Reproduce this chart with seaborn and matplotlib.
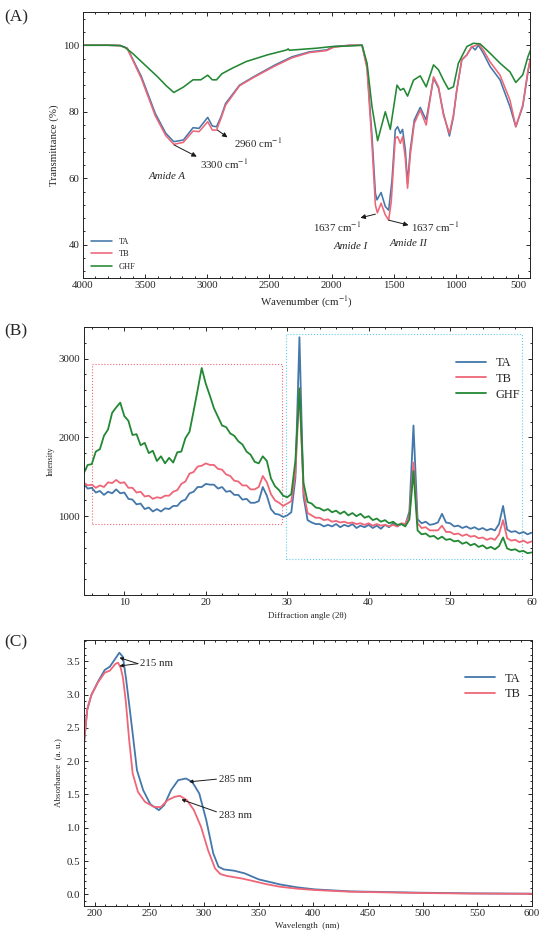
import matplotlib
matplotlib.use("Agg")
import numpy as np
import seaborn as sns
from matplotlib import pyplot as plt
from matplotlib.patches import Rectangle
from matplotlib.ticker import AutoMinorLocator, MultipleLocator

# ---------------- FTIR (A) ----------------
ftir_ta_wn = [4000, 3800, 3700, 3644, 3531, 3419, 3334, 3270, 3193, 3115, 3067, 2997, 2960,
              2926, 2890, 2853, 2741, 2628, 2459, 2320, 2179, 2039, 1983, 1850, 1755, 1715,
              1675, 1648, 1635, 1602, 1568, 1541, 1514, 1488, 1469, 1447, 1429, 1407, 1389,
              1367, 1335, 1287, 1239, 1180, 1140, 1100, 1052, 1020, 993, 953, 912, 872, 845,
              819, 779, 725, 645, 565, 518, 462, 420, 400]
ftir_ta_t = [100.0, 100.0, 99.9, 99.1, 90.6, 79.5, 73.5, 71.0, 71.5, 75.2, 75.0, 78.3, 75.7,
             75.5, 78.5, 82.5, 88.0, 90.5, 94.0, 96.5, 98.0, 98.6, 99.6, 100.0, 100.0, 93.6,
             72.6, 55.5, 53.5, 55.7, 51.5, 50.4, 59.5, 74.5, 75.5, 73.5, 74.7, 68.5, 58.5,
             68.5, 77.5, 81.3, 77.5, 90.1, 87.1, 79.5, 72.7, 78.5, 86.5, 95.6, 97.1, 99.6, 98.6,
             100.0, 97.6, 93.6, 89.6, 81.5, 75.5, 81.6, 92.0, 96.0]

ftir_tb_wn = [4000, 3800, 3700, 3644, 3531, 3419, 3334, 3270, 3193, 3115, 3067, 2997, 2960,
              2926, 2890, 2853, 2741, 2628, 2459, 2320, 2179, 2039, 1983, 1850, 1755, 1715,
              1675, 1648, 1632, 1602, 1568, 1541, 1520, 1500, 1488, 1469, 1447, 1429, 1407,
              1389, 1367, 1335, 1287, 1239, 1180, 1140, 1100, 1052, 1020, 993, 953, 912, 872,
              845, 819, 779, 725, 645, 565, 518, 462, 420, 400]
ftir_tb_t = [100.0, 100.0, 99.9, 99.0, 90.0, 78.8, 72.8, 70.2, 70.8, 74.2, 74.0, 77.0, 74.5,
             74.5, 78.0, 82.0, 87.8, 90.3, 93.7, 96.2, 97.8, 98.4, 99.4, 100.0, 100.0, 93.0,
             70.0, 52.0, 49.6, 52.5, 49.0, 47.4, 53.0, 65.0, 72.0, 72.5, 70.5, 72.5, 66.0,
             57.0, 67.0, 76.5, 80.5, 76.0, 90.5, 87.5, 79.0, 73.5, 79.0, 86.5, 95.6, 97.1, 99.6,
             99.8, 100.5, 98.5, 95.0, 91.0, 83.5, 75.5, 82.0, 92.5, 96.0]

ftir_ghf_wn = [4000, 3800, 3700, 3660, 3600, 3500, 3400, 3330, 3270, 3193, 3115, 3053, 2997,
               2960, 2926, 2884, 2799, 2687, 2517, 2360, 2350, 2340, 2123, 2000, 1842, 1755,
               1715, 1675, 1630, 1568, 1528, 1474, 1447, 1421, 1389, 1341, 1287, 1239, 1180,
               1140, 1100, 1060, 1020, 980, 912, 859, 805, 725, 645, 565, 518, 462, 420, 400]
ftir_ghf_t = [100.0, 100.0, 99.9, 99.3, 97.5, 94.0, 90.5, 87.8, 85.8, 87.4, 89.6, 89.6, 91.0,
              89.6, 89.6, 91.4, 93.1, 95.1, 97.1, 98.6, 98.9, 98.5, 99.1, 99.6, 99.8, 100.0,
              94.6, 81.5, 71.3, 80.0, 74.7, 88.0, 86.5, 87.0, 84.7, 89.5, 90.8, 87.5, 94.1,
              92.6, 89.5, 86.8, 87.5, 94.6, 99.6, 100.6, 100.4, 97.6, 94.6, 92.0, 88.8, 91.1,
              96.6, 98.5]

# ---------------- XRD (B) ----------------
xrd_angle = np.arange(5.0, 60.01, 0.5)
xrd_ta = [1410, 1350, 1360, 1300, 1320, 1270, 1310, 1290, 1340, 1290,
          1300, 1220, 1210, 1150, 1160, 1090, 1110, 1060, 1090, 1060,
          1100, 1090, 1130, 1130, 1190, 1210, 1290, 1310, 1370, 1370,
          1410, 1400, 1400, 1350, 1370, 1310, 1320, 1270, 1270, 1210,
          1220, 1170, 1170, 1190, 1370, 1260, 1090, 1030, 1020, 990,
          1010, 1050, 1480, 3270, 1250, 950, 920, 900, 900, 870,
          890, 870, 900, 860, 890, 870, 900, 850, 880, 860,
          890, 850, 880, 840, 890, 860, 910, 870, 900, 890,
          1060, 2150, 960, 910, 930, 890, 900, 920, 1030, 920,
          910, 870, 880, 850, 870, 840, 860, 830, 850, 820,
          840, 820, 900, 1130, 830, 800, 810, 780, 800, 770,
          790]
xrd_tb = [1430, 1390, 1400, 1360, 1390, 1370, 1430, 1420, 1460, 1420,
          1430, 1360, 1360, 1300, 1310, 1250, 1260, 1220, 1240, 1230,
          1260, 1260, 1310, 1330, 1410, 1440, 1540, 1560, 1630, 1640,
          1670, 1650, 1650, 1600, 1590, 1530, 1510, 1450, 1440, 1390,
          1390, 1340, 1340, 1370, 1510, 1430, 1280, 1200, 1170, 1130,
          1160, 1190, 1540, 2620, 1310, 1040, 1010, 980, 980, 950,
          960, 930, 940, 920, 930, 910, 920, 900, 910, 890,
          910, 880, 900, 880, 890, 870, 890, 870, 910, 900,
          1010, 1680, 910, 850, 860, 820, 820, 820, 880, 800,
          800, 770, 780, 750, 770, 740, 750, 720, 730, 700,
          720, 700, 770, 950, 720, 690, 700, 670, 690, 660,
          680]
xrd_ghf = [1540, 1650, 1660, 1820, 1850, 2020, 2100, 2310, 2380, 2440,
           2270, 2210, 2030, 2040, 1900, 1930, 1800, 1830, 1700, 1760,
           1670, 1740, 1680, 1810, 1820, 1990, 2070, 2330, 2600, 2880,
           2680, 2530, 2370, 2260, 2150, 2130, 2050, 2020, 1950, 1910,
           1820, 1780, 1690, 1670, 1760, 1700, 1480, 1380, 1330, 1260,
           1240, 1280, 1700, 2620, 1420, 1180, 1160, 1110, 1100, 1070,
           1090, 1050, 1070, 1030, 1060, 1010, 1040, 1000, 1030, 980,
           1000, 950, 970, 930, 950, 910, 930, 890, 900, 870,
           960, 1570, 820, 770, 780, 740, 750, 710, 740, 700,
           710, 680, 690, 650, 670, 630, 650, 610, 630, 590,
           610, 580, 620, 730, 590, 570, 580, 550, 560, 530,
           540]
amorph_box = (6.0, 29.4, 907, 2928)     # x0, x1, y0, y1
cryst_box = (29.9, 58.8, 462, 3310)

# ---------------- UV-Vis (C) ----------------
uv_ta_nm = [190, 193.3, 197, 203, 209.3, 214, 219, 222.7, 226, 229, 232.3, 234.9, 238.8,
            244.5, 251, 258.9, 263.7, 270, 276.5, 283.6, 289.3, 295.8, 302.2, 308.6, 313.4,
            318.2, 327.8, 337.4, 350.2, 369.4, 385.4, 401.4, 433.5, 465.5, 497.5, 545.6, 600]
uv_ta_abs = [2.21, 2.77, 2.99, 3.19, 3.37, 3.42, 3.54, 3.63, 3.565, 3.215, 2.77, 2.415, 1.865,
             1.565, 1.355, 1.265, 1.34, 1.565, 1.715, 1.74, 1.69, 1.515, 1.115, 0.615, 0.415,
             0.375, 0.355, 0.315, 0.225, 0.15, 0.105, 0.075, 0.045, 0.035, 0.025, 0.015, 0.01]
uv_tb_nm = [190, 193.3, 197, 203, 209.3, 214, 219, 221.5, 224, 226, 228.5, 231.7, 234.9,
            239.7, 246.1, 254.1, 260.5, 266.9, 273.3, 278.1, 284.5, 290.9, 297.4, 303.8,
            310.2, 315, 321.4, 334.2, 343.8, 356.6, 369.4, 385.4, 401.4, 433.5, 465.5, 497.5,
            545.6, 600]
uv_tb_abs = [2.2, 2.78, 2.99, 3.18, 3.33, 3.36, 3.46, 3.48, 3.40, 3.25, 2.915, 2.315, 1.815,
             1.54, 1.39, 1.315, 1.31, 1.415, 1.465, 1.48, 1.415, 1.265, 1.015, 0.665,
             0.39, 0.305, 0.275, 0.24, 0.205, 0.155, 0.115, 0.085, 0.065, 0.04, 0.03, 0.02,
             0.012, 0.008]

colors = {'TA': '#4477AA', 'TB': '#EE6677', 'GHF': '#228833'}

sns.set_theme(style='ticks')
plt.rcParams['font.family'] = ['Liberation Serif', 'DejaVu Serif']
plt.rcParams['mathtext.fontset'] = 'stix'
plt.rcParams['axes.linewidth'] = 0.7


def style_axes(ax, xmaj, ymaj, fs=7.8):
    ax.xaxis.set_major_locator(MultipleLocator(xmaj))
    ax.yaxis.set_major_locator(MultipleLocator(ymaj))
    ax.xaxis.set_minor_locator(AutoMinorLocator(5))
    ax.yaxis.set_minor_locator(AutoMinorLocator(5))
    ax.tick_params(which='both', direction='in', top=True, right=True,
                   width=0.7, labelsize=fs, pad=2.5)
    ax.tick_params(which='major', length=3.2)
    ax.tick_params(which='minor', length=1.5)
    for s in ax.spines.values():
        s.set_color('#222222')


def arrow(ax, tail, head, ms=7):
    ax.annotate('', xy=head, xytext=tail,
                arrowprops=dict(arrowstyle='-|>', color='k', lw=0.7,
                                mutation_scale=ms, shrinkA=0, shrinkB=0))


fig = plt.figure(figsize=(5.5, 9.44), dpi=100)

# ----- panel A -----
axA = fig.add_axes([0.151, 0.7055, 0.8135, 0.2818])
sns.lineplot(x=ftir_ta_wn, y=ftir_ta_t, ax=axA, color=colors['TA'], lw=1.15,
             estimator=None, label='TA')
sns.lineplot(x=ftir_tb_wn, y=ftir_tb_t, ax=axA, color=colors['TB'], lw=1.15,
             estimator=None, label='TB')
sns.lineplot(x=ftir_ghf_wn, y=ftir_ghf_t, ax=axA, color=colors['GHF'], lw=1.15,
             estimator=None, label='GHF')
axA.set_xlim(4000, 400)
axA.set_ylim(30, 110)
style_axes(axA, 500, 20)
axA.set_yticks([40, 60, 80, 100])
axA.set_xlabel(r'Wavenumber (cm$^{-1}$)', fontsize=7.8, labelpad=3)
axA.set_ylabel('Transmittance (%)', fontsize=7.8, labelpad=3)
axA.legend(loc='lower left', fontsize=6, frameon=False, handlelength=2.6,
           labelspacing=0.5, borderaxespad=0.5)

arrow(axA, (2919, 74.5), (2838, 72.3))
axA.text(2785, 70.7, r'2960 cm$^{-1}$', fontsize=7.8, va='center')
arrow(axA, (3267, 70.0), (3085, 66.5))
axA.text(3058, 64.2, r'3300 cm$^{-1}$', fontsize=7.8, va='center')
axA.text(3320, 60.5, 'Amide A', fontsize=7.8, style='italic', ha='center', va='center')
arrow(axA, (1648, 49.2), (1768, 48.1))
axA.text(1763, 45.4, r'1637 cm$^{-1}$', fontsize=7.8, ha='right', va='center')
arrow(axA, (1541, 47.4), (1381, 45.9))
axA.text(1362, 45.4, r'1637 cm$^{-1}$', fontsize=7.8, va='center')
axA.text(1849, 39.6, 'Amide I', fontsize=7.8, style='italic', ha='center', va='center')
axA.text(1381, 40.4, 'Amide II', fontsize=7.8, style='italic', ha='center', va='center')

# ----- panel B -----
axB = fig.add_axes([0.152, 0.3697, 0.8145, 0.2839])
sns.lineplot(x=xrd_angle, y=xrd_ta, ax=axB, color=colors['TA'], lw=1.3,
             estimator=None, label='TA')
sns.lineplot(x=xrd_angle, y=xrd_tb, ax=axB, color=colors['TB'], lw=1.3,
             estimator=None, label='TB')
sns.lineplot(x=xrd_angle, y=xrd_ghf, ax=axB, color=colors['GHF'], lw=1.3,
             estimator=None, label='GHF')
for box, c in [(amorph_box, '#EE6677'), (cryst_box, '#66CCEE')]:
    axB.add_patch(Rectangle((box[0], box[2]), box[1] - box[0], box[3] - box[2],
                            fill=False, ls=':', lw=0.8, ec=c))
axB.set_xlim(5, 60)
axB.set_ylim(0, 3400)
style_axes(axB, 10, 1000)
axB.set_yticks([1000, 2000, 3000])
axB.set_xlabel('Diffraction angle (2θ)', fontsize=6.5, labelpad=3)
axB.set_ylabel('Intensity', fontsize=6, labelpad=3)
axB.legend(loc='upper right', bbox_to_anchor=(1.0, 0.93), fontsize=9, frameon=False,
           handlelength=2.4, labelspacing=0.3)

# ----- panel C -----
axC = fig.add_axes([0.152, 0.0406, 0.815, 0.2814])
sns.lineplot(x=uv_ta_nm, y=uv_ta_abs, ax=axC, color=colors['TA'], lw=1.3,
             estimator=None, label='TA')
sns.lineplot(x=uv_tb_nm, y=uv_tb_abs, ax=axC, color=colors['TB'], lw=1.3,
             estimator=None, label='TB')
axC.set_xlim(190, 600)
axC.set_ylim(-0.17, 3.82)
style_axes(axC, 50, 0.5)
axC.set_xlabel('Wavelength  (nm)', fontsize=6.5, labelpad=3)
axC.set_ylabel('Absorbance  (a. u.)', fontsize=6.5, labelpad=3)
axC.legend(loc='upper right', bbox_to_anchor=(1.0, 0.92), fontsize=9, frameon=False,
           handlelength=2.4, labelspacing=0.3)
arrow(axC, (239.7, 3.465), (222.8, 3.555), ms=5)
arrow(axC, (239.7, 3.465), (222.8, 3.43), ms=5)
axC.text(242, 3.465, '215 nm', fontsize=7.8, va='center')
arrow(axC, (311.5, 1.73), (286.5, 1.69), ms=5)
axC.text(314.3, 1.725, '285 nm', fontsize=7.8, va='center')
arrow(axC, (311.5, 1.24), (279.5, 1.425), ms=5)
axC.text(314.3, 1.19, '283 nm', fontsize=7.8, va='center')

for lab, y in [('(A)', 0.99), ('(B)', 0.657), ('(C)', 0.328)]:
    fig.text(0.008, y, lab, fontsize=12.5, va='top', ha='left')

fig.savefig('out.png', dpi=100)
